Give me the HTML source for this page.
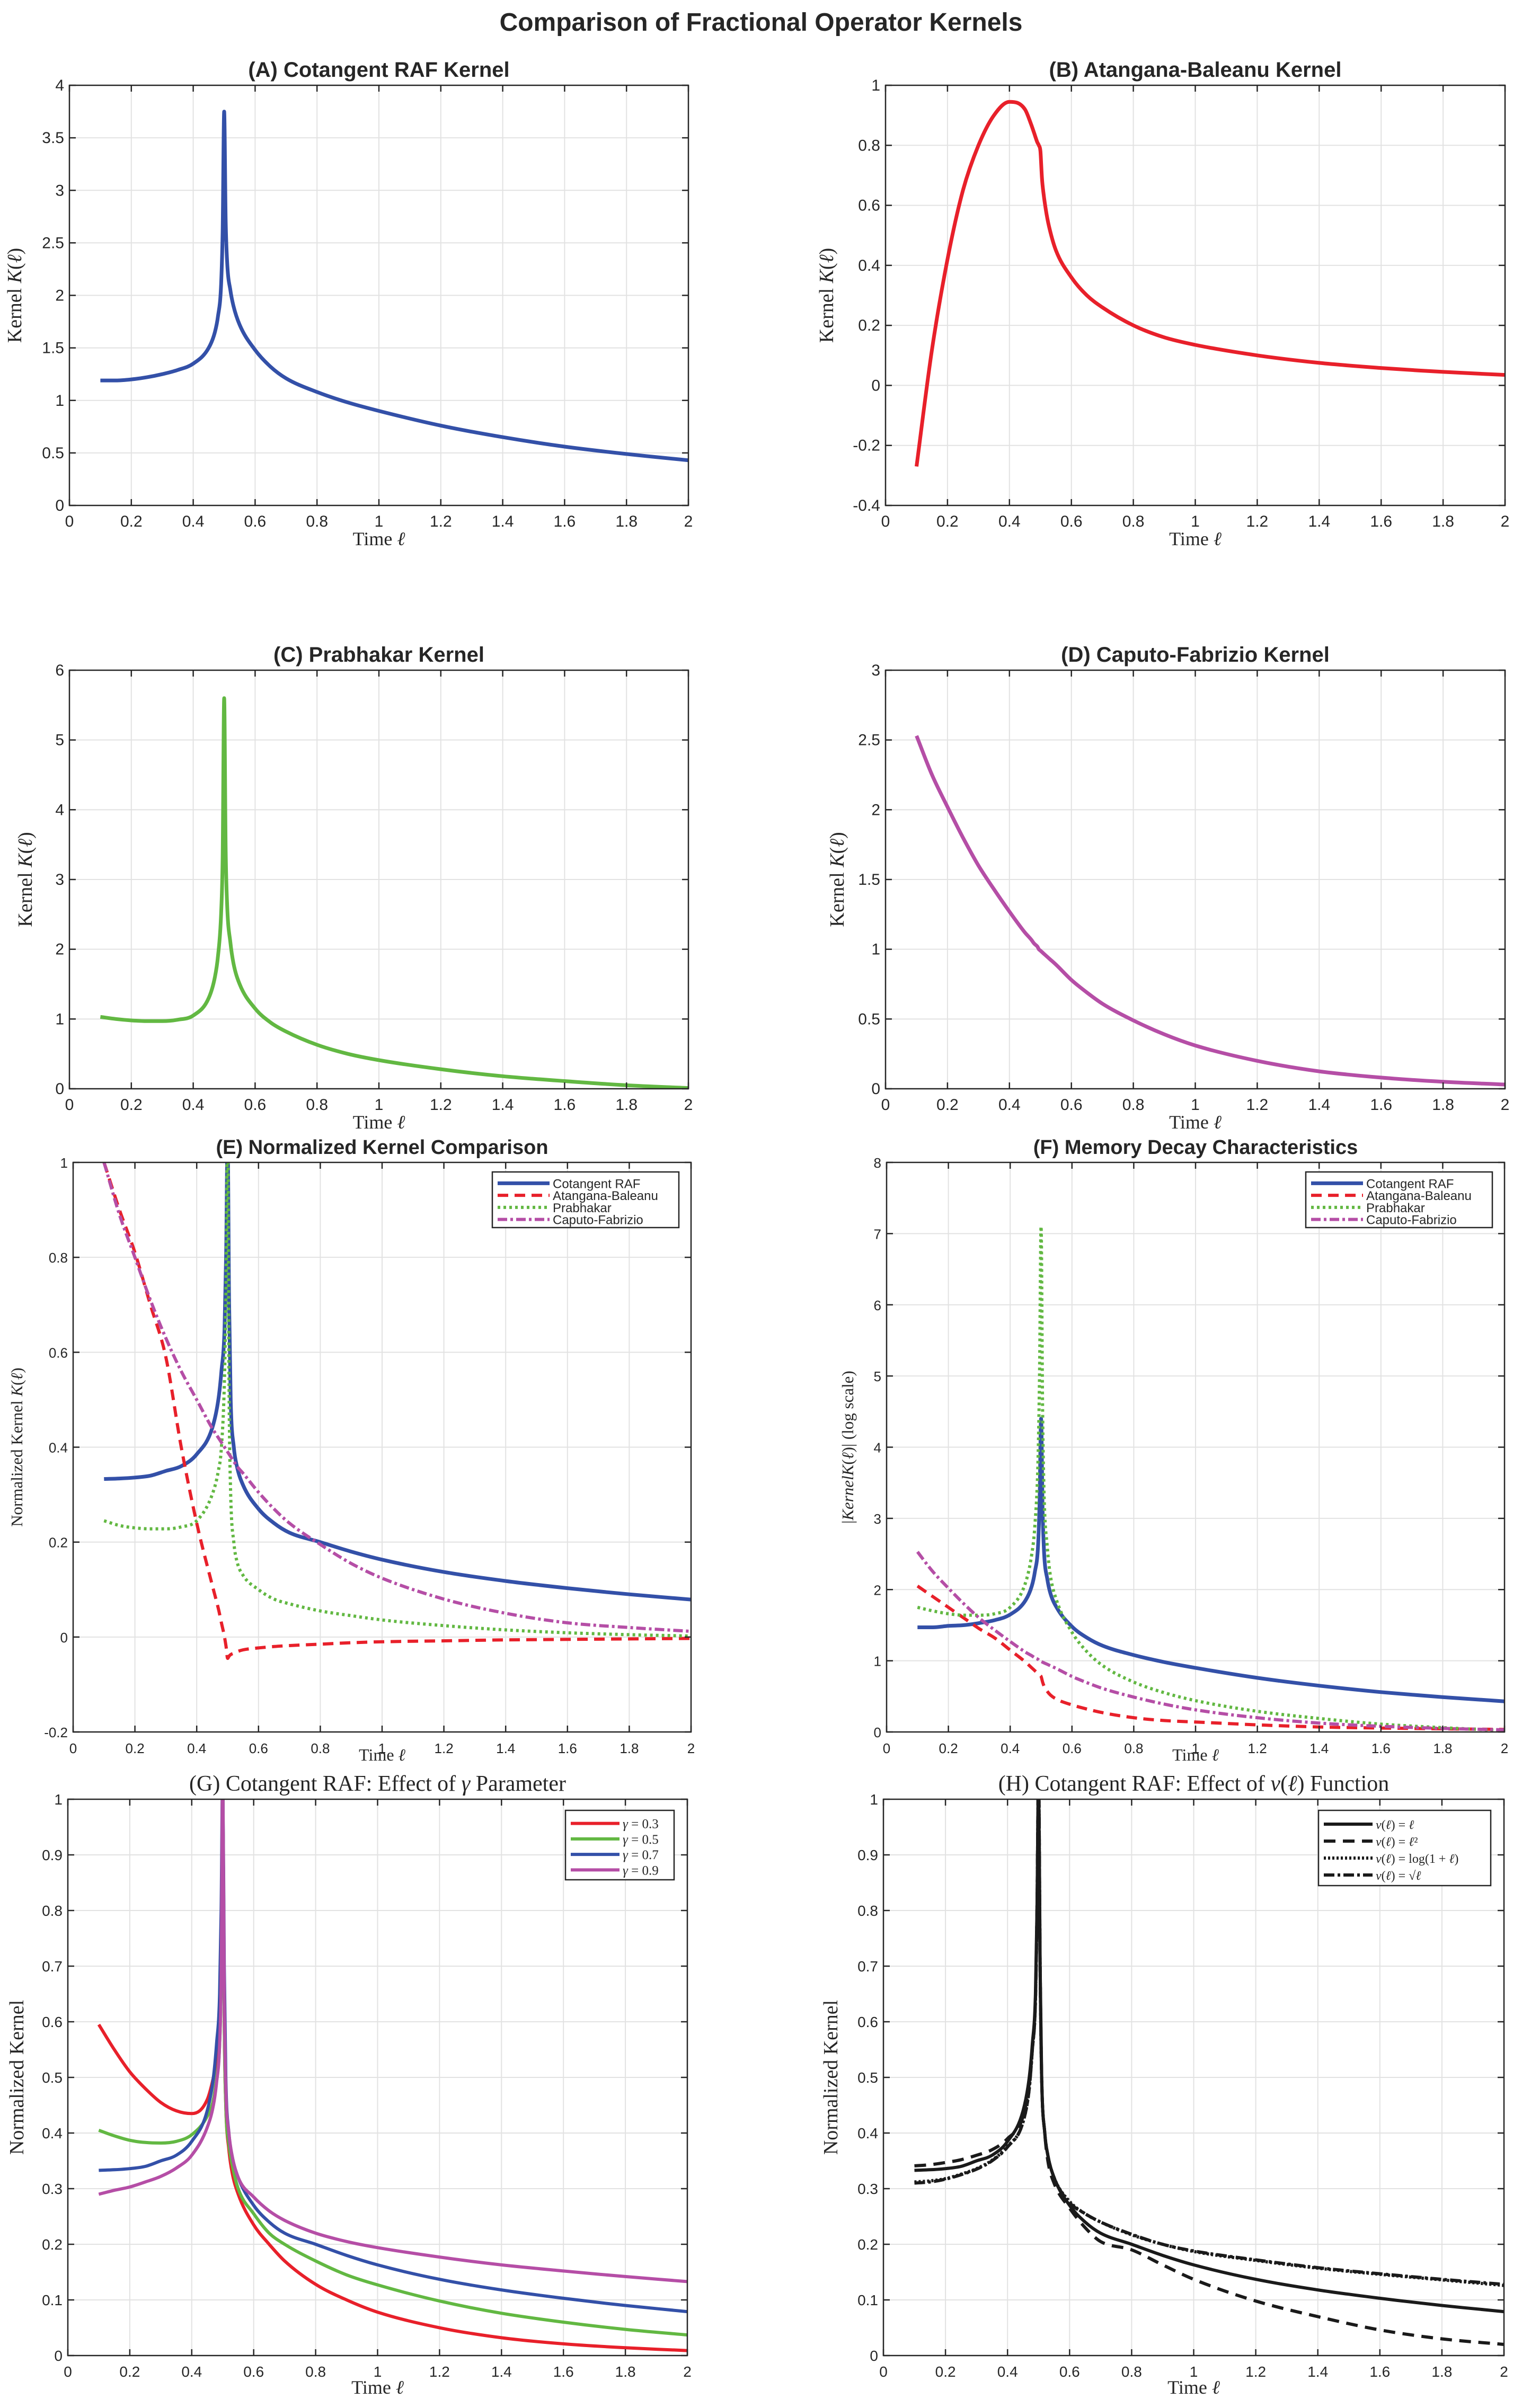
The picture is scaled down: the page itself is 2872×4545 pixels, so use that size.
<!DOCTYPE html>
<html><head><meta charset="utf-8"><style>
html,body{margin:0;padding:0;background:#fff;}
svg{display:block;}
</style></head><body>
<svg id="fig" width="2872" height="4545" viewBox="0 0 2872 4545" xmlns="http://www.w3.org/2000/svg">
<rect width="2872" height="4545" fill="#fff"/>
<text x="1436" y="58" text-anchor="middle" font-family="Liberation Sans, sans-serif" font-weight="bold" font-size="48" fill="#262626">Comparison of Fractional Operator Kernels</text>
</svg>
<script>
// ---- data ----
const xsPeak = [0.1,0.15,0.2,0.25,0.3,0.35,0.4,0.45,0.47,0.48,0.49,0.495,0.5,0.505,0.51,0.52,0.53,0.55,0.6,0.65,0.7,0.8,0.9,1.0,1.2,1.4,1.6,1.8,2.0];
const xTicks = [0,0.2,0.4,0.6,0.8,1,1.2,1.4,1.6,1.8,2];
const xTickLabels = ['0','0.2','0.4','0.6','0.8','1','1.2','1.4','1.6','1.8','2'];
const yTicksA = [0,0.5,1,1.5,2,2.5,3,3.5,4];
const yTickLabelsA = ['0','0.5','1','1.5','2','2.5','3','3.5','4'];
const yTicksB = [-0.4,-0.2,0,0.2,0.4,0.6,0.8,1];
const yTickLabelsB = ['-0.4','-0.2','0','0.2','0.4','0.6','0.8','1'];
const yTicksC = [0,1,2,3,4,5,6];
const yTickLabelsC = ['0','1','2','3','4','5','6'];
const yTicksD = [0,0.5,1,1.5,2,2.5,3];
const yTickLabelsD = ['0','0.5','1','1.5','2','2.5','3'];
const yTicksE = [-0.2,0,0.2,0.4,0.6,0.8,1];
const yTickLabelsE = ['-0.2','0','0.2','0.4','0.6','0.8','1'];
const yTicksF = [0,1,2,3,4,5,6,7,8];
const yTickLabelsF = ['0','1','2','3','4','5','6','7','8'];
const yTicksG = [0,0.1,0.2,0.3,0.4,0.5,0.6,0.7,0.8,0.9,1];
const yTickLabelsG = ['0','0.1','0.2','0.3','0.4','0.5','0.6','0.7','0.8','0.9','1'];

const cotA = [1.19,1.19,1.2,1.22,1.25,1.29,1.35,1.5,1.65,1.8,2.1,2.6,3.75,2.7,2.3,2.05,1.9,1.72,1.48,1.32,1.21,1.08,0.98,0.9,0.76,0.65,0.56,0.49,0.43];
const abB = [-0.27,0.12,0.42,0.65,0.8,0.9,0.945,0.92,0.87,0.84,0.81,0.8,0.78,0.69,0.64,0.57,0.52,0.45,0.36,0.3,0.26,0.2,0.16,0.135,0.1,0.075,0.058,0.045,0.035];
const prabC = [1.03,1.0,0.98,0.97,0.97,0.99,1.05,1.3,1.6,1.9,2.5,3.3,5.6,3.4,2.6,2.1,1.8,1.5,1.15,0.95,0.82,0.63,0.5,0.41,0.28,0.18,0.11,0.05,0.01];
const cfD = [2.53,2.25,2.02,1.8,1.6,1.43,1.27,1.12,1.07,1.04,1.02,1.0,0.99,0.98,0.97,0.95,0.93,0.89,0.78,0.69,0.61,0.49,0.39,0.31,0.2,0.125,0.08,0.05,0.03];

const cotE = [0.333,0.334,0.336,0.34,0.35,0.36,0.385,0.44,0.5,0.56,0.65,0.8,1.05,0.7,0.5,0.4,0.36,0.32,0.27,0.24,0.22,0.2,0.18,0.163,0.137,0.118,0.103,0.09,0.079];
const abE = [1.0,0.9,0.81,0.7,0.59,0.4,0.24,0.11,0.06,0.03,0.0,-0.02,-0.045,-0.04,-0.037,-0.034,-0.031,-0.027,-0.023,-0.02,-0.018,-0.015,-0.012,-0.01,-0.008,-0.006,-0.005,-0.004,-0.003];
const prabE = [0.245,0.235,0.23,0.228,0.228,0.232,0.245,0.3,0.35,0.4,0.55,0.75,1.1,0.5,0.3,0.2,0.16,0.13,0.1,0.08,0.07,0.055,0.045,0.036,0.024,0.015,0.009,0.005,0.002];
const cfE = [1.0,0.89,0.8,0.71,0.63,0.56,0.5,0.44,0.42,0.41,0.4,0.395,0.39,0.385,0.38,0.37,0.36,0.345,0.305,0.27,0.24,0.195,0.155,0.124,0.08,0.05,0.03,0.02,0.012];

const cotF = [1.47,1.47,1.49,1.5,1.53,1.57,1.65,1.85,2.05,2.25,2.6,3.2,4.4,3.1,2.5,2.15,1.95,1.75,1.48,1.32,1.21,1.08,0.98,0.9,0.76,0.65,0.56,0.49,0.43];
const abF = [2.05,1.9,1.75,1.6,1.45,1.32,1.15,0.98,0.9,0.86,0.82,0.8,0.78,0.7,0.64,0.57,0.52,0.46,0.38,0.32,0.27,0.2,0.16,0.14,0.1,0.07,0.055,0.045,0.035];
const prabF = [1.75,1.7,1.66,1.64,1.64,1.66,1.75,2.1,2.5,2.9,3.8,5.0,7.1,4.5,3.3,2.6,2.2,1.85,1.4,1.12,0.93,0.7,0.55,0.44,0.29,0.19,0.11,0.06,0.02];
const cfF = [2.53,2.25,2.02,1.8,1.6,1.43,1.27,1.12,1.07,1.04,1.02,1.0,0.99,0.98,0.97,0.95,0.93,0.89,0.78,0.69,0.61,0.49,0.39,0.31,0.2,0.125,0.08,0.05,0.03];

const g03 = [0.595,0.55,0.51,0.48,0.455,0.44,0.435,0.46,0.5,0.53,0.6,0.7,1.05,0.6,0.45,0.37,0.33,0.29,0.235,0.2,0.17,0.128,0.1,0.078,0.05,0.032,0.021,0.014,0.009];
const g05 = [0.405,0.395,0.387,0.383,0.382,0.385,0.397,0.43,0.46,0.5,0.56,0.68,1.05,0.6,0.45,0.38,0.345,0.3,0.255,0.22,0.2,0.17,0.145,0.127,0.098,0.076,0.06,0.047,0.037];
const g07 = [0.333,0.334,0.336,0.34,0.35,0.36,0.385,0.44,0.5,0.56,0.65,0.8,1.05,0.7,0.5,0.4,0.36,0.32,0.27,0.24,0.22,0.2,0.18,0.163,0.137,0.118,0.103,0.09,0.079];
const g09 = [0.29,0.297,0.303,0.312,0.322,0.337,0.36,0.41,0.45,0.49,0.56,0.68,1.05,0.65,0.48,0.4,0.36,0.32,0.285,0.26,0.243,0.22,0.205,0.194,0.177,0.163,0.152,0.142,0.133];

const vLin = [0.333,0.334,0.336,0.34,0.35,0.36,0.385,0.44,0.5,0.56,0.65,0.8,1.05,0.7,0.5,0.4,0.36,0.32,0.27,0.24,0.22,0.2,0.18,0.163,0.137,0.118,0.103,0.09,0.079];
const vSq = [0.341,0.343,0.347,0.352,0.36,0.37,0.39,0.43,0.49,0.55,0.64,0.8,1.05,0.7,0.5,0.4,0.35,0.31,0.265,0.23,0.205,0.19,0.163,0.137,0.098,0.07,0.046,0.03,0.02];
const vLog = [0.312,0.314,0.318,0.326,0.336,0.351,0.376,0.42,0.48,0.55,0.64,0.8,1.05,0.7,0.5,0.4,0.36,0.32,0.277,0.255,0.24,0.217,0.2,0.187,0.171,0.157,0.146,0.136,0.126];
const vSqrt = [0.31,0.312,0.317,0.325,0.335,0.35,0.375,0.42,0.48,0.55,0.64,0.8,1.05,0.7,0.5,0.4,0.36,0.32,0.275,0.255,0.24,0.218,0.2,0.188,0.172,0.158,0.147,0.137,0.128];

// ---- drawing ----
const NS = 'http://www.w3.org/2000/svg';
const svg = document.getElementById('fig');
const BLUE='#3350a8', RED='#e8202a', GREEN='#62b842', MAG='#b54ea6', BLK='#1a1a1a';
function mk(tag, attrs, parent){ const e=document.createElementNS(NS,tag); for(const k in attrs) e.setAttribute(k,attrs[k]); (parent||svg).appendChild(e); return e; }
// monotone cubic (Fritsch-Carlson) path through pixel points
function smoothPath(px, py){
  const n=px.length; if(n<3) return px.map((x,i)=>(i?'L':'M')+x+','+py[i]).join(' ');
  const d=[], m=new Array(n);
  for(let i=0;i<n-1;i++) d.push((py[i+1]-py[i])/(px[i+1]-px[i]));
  m[0]=d[0]; m[n-1]=d[n-2];
  for(let i=1;i<n-1;i++){ m[i]=(d[i-1]*d[i]<=0)?0:(d[i-1]+d[i])/2; }
  for(let i=0;i<n-1;i++){
    if(d[i]===0){m[i]=0;m[i+1]=0;continue;}
    const a=m[i]/d[i], b=m[i+1]/d[i], s=a*a+b*b;
    if(s>9){const t=3/Math.sqrt(s); m[i]=t*a*d[i]; m[i+1]=t*b*d[i];}
  }
  let p='M'+px[0].toFixed(1)+','+py[0].toFixed(1);
  for(let i=0;i<n-1;i++){
    const h=(px[i+1]-px[i])/3;
    p+=' C'+(px[i]+h).toFixed(1)+','+(py[i]+m[i]*h).toFixed(1)+' '+(px[i+1]-h).toFixed(1)+','+(py[i+1]-m[i+1]*h).toFixed(1)+' '+px[i+1].toFixed(1)+','+py[i+1].toFixed(1);
  }
  return p;
}
let clipId=0;
function drawPanel(p){
  const g = mk('g',{});
  
  
  const sx = v => p.x0 + (v - p.xmin)/(p.xmax-p.xmin)*(p.x1-p.x0);
  const sy = v => p.y1 - (v - p.ymin)/(p.ymax-p.ymin)*(p.y1-p.y0);
  xTicks.forEach((t,i)=>{
    const l = mk('line',{x1:sx(t),x2:sx(t),y1:p.y0,y2:p.y1,stroke:'#e2e2e2','stroke-width':2},g);
    
    
  });
  p.yt.forEach((t,i)=>{
    const l = mk('line',{x1:p.x0,x2:p.x1,y1:sy(t),y2:sy(t),stroke:'#e2e2e2','stroke-width':2},g);
    
    
  });
  clipId++;
  const cp = mk('clipPath',{id:'c'+clipId},g);
  mk('rect',{x:p.x0,y:p.y0,width:p.x1-p.x0,height:p.y1-p.y0},cp);
  p.series.forEach(s=>{
    const d = smoothPath(s.xs.map(sx), s.ys.map(sy));
    const path = mk('path',{d:d,fill:'none',stroke:s.color,'stroke-width':s.w||7,'stroke-dasharray':s.dash||'none','stroke-linejoin':'round','clip-path':'url(#c'+clipId+')'},g);
    
    
  });
  const box = mk('rect',{x:p.x0,y:p.y0,width:p.x1-p.x0,height:p.y1-p.y0,fill:'none',stroke:'#262626','stroke-width':2.5},g);
  
  
  xTicks.forEach((t,i)=>{
    mk('line',{x1:sx(t),x2:sx(t),y1:p.y1,y2:p.y1-12,stroke:'#262626','stroke-width':2.5},g);
    mk('line',{x1:sx(t),x2:sx(t),y1:p.y0,y2:p.y0+12,stroke:'#262626','stroke-width':2.5},g);
    const tx = mk('text',{x:sx(t),y:p.y1+40,'text-anchor':'middle','font-family':'Liberation Sans, sans-serif','font-size':p.tfs||28,fill:'#262626'},g);
    tx.textContent = xTickLabels[i];
    
    
  });
  p.yt.forEach((t,i)=>{
    mk('line',{x1:p.x0,x2:p.x0+12,y1:sy(t),y2:sy(t),stroke:'#262626','stroke-width':2.5},g);
    mk('line',{x1:p.x1,x2:p.x1-12,y1:sy(t),y2:sy(t),stroke:'#262626','stroke-width':2.5},g);
    const tx = mk('text',{x:p.x0-10,y:sy(t)+10,'text-anchor':'end','font-family':'Liberation Sans, sans-serif','font-size':p.tfs||28,fill:'#262626'},g);
    tx.textContent = p.ytl[i];
    
    
  });
  const ti = mk('text',{x:(p.x0+p.x1)/2,y:p.y0-16,'text-anchor':'middle','font-family':p.serifTitle?'Liberation Serif, serif':'Liberation Sans, sans-serif','font-weight':p.serifTitle?'normal':'bold','font-size':p.serifTitle?42:(p.titleFs||40),fill:'#262626'},g);
  ti.innerHTML = p.title;
  
  
  const xl = mk('text',{x:(p.x0+p.x1)/2,y:p.y1+p.xlOff,'text-anchor':'middle','font-family':'Liberation Serif, serif','font-size':p.xlfs||36,fill:'#262626'},g);
  xl.innerHTML = 'Time <tspan font-style="italic">ℓ</tspan>';
  
  
  const cy=(p.y0+p.y1)/2;
  const yl = mk('text',{x:p.ylx,y:cy,'text-anchor':'middle','font-family':'Liberation Serif, serif','font-size':p.ylfs||38,fill:'#262626',transform:'rotate(-90 '+p.ylx+' '+cy+')'},g);
  yl.innerHTML = p.ylabel;
  
  
  if(p.legend){
    const L=p.legend;
    const lg = mk('g',{},g);
    
    
    mk('rect',{x:L.x,y:L.y,width:L.w,height:L.h,fill:'#fff',stroke:'#262626','stroke-width':2.5},lg);
    const rowH=(L.h-14)/p.series.length;
    p.series.forEach((s,i)=>{
      const yy=L.y+10+rowH*(i+0.5);
      mk('line',{x1:L.x+10,x2:L.x+10+L.lw,y1:yy,y2:yy,stroke:s.color,'stroke-width':s.w||7,'stroke-dasharray':s.dash||'none'},lg);
      const t=mk('text',{x:L.x+16+L.lw,y:yy+9,'font-family':L.serif?'Liberation Serif, serif':'Liberation Sans, sans-serif','font-size':L.fs||25,fill:'#262626'},lg);
      t.innerHTML = s.label;
      
      
    });
  }
}
const KL='Kernel <tspan font-style="italic">K</tspan>(<tspan font-style="italic">ℓ</tspan>)';
const LX=131, RX=1299, LX2=1671, RX2=2840;
drawPanel({id:'panel-a',x0:LX,x1:RX,y0:161,y1:954,xmin:0,xmax:2,ymin:0,ymax:4,yt:yTicksA,ytl:yTickLabelsA,title:'(A) Cotangent RAF Kernel',ylabel:KL,ylx:40,xlOff:75,tfs:30,
  series:[{xs:xsPeak,ys:cotA,color:BLUE,name:'cotangent-raf-line'}]});
drawPanel({id:'panel-b',x0:LX2,x1:RX2,y0:161,y1:954,xmin:0,xmax:2,ymin:-0.4,ymax:1,yt:yTicksB,ytl:yTickLabelsB,title:'(B) Atangana-Baleanu Kernel',ylabel:KL,ylx:1572,xlOff:75,tfs:30,
  series:[{xs:xsPeak,ys:abB,color:RED,name:'atangana-baleanu-line'}]});
drawPanel({id:'panel-c',x0:LX,x1:RX,y0:1265,y1:2055,xmin:0,xmax:2,ymin:0,ymax:6,yt:yTicksC,ytl:yTickLabelsC,title:'(C) Prabhakar Kernel',ylabel:KL,ylx:60,xlOff:75,tfs:30,
  series:[{xs:xsPeak,ys:prabC,color:GREEN,name:'prabhakar-line'}]});
drawPanel({id:'panel-d',x0:LX2,x1:RX2,y0:1265,y1:2055,xmin:0,xmax:2,ymin:0,ymax:3,yt:yTicksD,ytl:yTickLabelsD,title:'(D) Caputo-Fabrizio Kernel',ylabel:KL,ylx:1592,xlOff:75,tfs:30,
  series:[{xs:xsPeak,ys:cfD,color:MAG,name:'caputo-fabrizio-line'}]});
const leg4=(x)=>({x:x,y:2212,w:352,h:105,lw:98,fs:24});
drawPanel({id:'panel-e',x0:138,x1:1304,y0:2194,y1:3269,xmin:0,xmax:2,ymin:-0.2,ymax:1,yt:yTicksE,ytl:yTickLabelsE,title:'(E) Normalized Kernel Comparison',titleFs:38,ylabel:'Normalized Kernel <tspan font-style="italic">K</tspan>(<tspan font-style="italic">ℓ</tspan>)',ylx:42,ylfs:31,xlOff:54,xlfs:32,tfs:26,
  legend:leg4(929),
  series:[{xs:xsPeak,ys:cotE,color:BLUE,name:'cotangent-raf-line',label:'Cotangent RAF'},
          {xs:xsPeak,ys:abE,color:RED,dash:'20,12',w:6,name:'atangana-baleanu-line',label:'Atangana-Baleanu'},
          {xs:xsPeak,ys:prabE,color:GREEN,dash:'5,6',w:6,name:'prabhakar-line',label:'Prabhakar'},
          {xs:xsPeak,ys:cfE,color:MAG,dash:'18,6,5,6',w:6,name:'caputo-fabrizio-line',label:'Caputo-Fabrizio'}]});
drawPanel({id:'panel-f',x0:1673,x1:2839,y0:2194,y1:3269,xmin:0,xmax:2,ymin:0,ymax:8,yt:yTicksF,ytl:yTickLabelsF,title:'(F) Memory Decay Characteristics',titleFs:38,ylabel:'|<tspan font-style="italic">KernelK</tspan>(<tspan font-style="italic">ℓ</tspan>)| (log scale)',ylx:1610,ylfs:31,xlOff:54,xlfs:32,tfs:26,
  legend:leg4(2464),
  series:[{xs:xsPeak,ys:cotF,color:BLUE,name:'cotangent-raf-line',label:'Cotangent RAF'},
          {xs:xsPeak,ys:abF,color:RED,dash:'20,12',w:6,name:'atangana-baleanu-line',label:'Atangana-Baleanu'},
          {xs:xsPeak,ys:prabF,color:GREEN,dash:'5,6',w:6,name:'prabhakar-line',label:'Prabhakar'},
          {xs:xsPeak,ys:cfF,color:MAG,dash:'18,6,5,6',w:6,name:'caputo-fabrizio-line',label:'Caputo-Fabrizio'}]});
drawPanel({id:'panel-g',x0:128,x1:1297,y0:3396,y1:4446,xmin:0,xmax:2,ymin:0,ymax:1,yt:yTicksG,ytl:yTickLabelsG,serifTitle:true,title:'(G) Cotangent RAF: Effect of <tspan font-style="italic">γ</tspan> Parameter',ylabel:'Normalized Kernel',ylx:44,xlOff:72,tfs:28,
  legend:{x:1067,y:3417,w:205,h:131,lw:92,fs:25,serif:true},
  series:[{xs:xsPeak,ys:g03,color:RED,w:6,name:'gamma-0.3-line',label:'<tspan font-style="italic">γ</tspan> = 0.3'},
          {xs:xsPeak,ys:g05,color:GREEN,w:6,name:'gamma-0.5-line',label:'<tspan font-style="italic">γ</tspan> = 0.5'},
          {xs:xsPeak,ys:g07,color:BLUE,w:6,name:'gamma-0.7-line',label:'<tspan font-style="italic">γ</tspan> = 0.7'},
          {xs:xsPeak,ys:g09,color:MAG,w:6,name:'gamma-0.9-line',label:'<tspan font-style="italic">γ</tspan> = 0.9'}]});
drawPanel({id:'panel-h',x0:1667,x1:2838,y0:3396,y1:4446,xmin:0,xmax:2,ymin:0,ymax:1,yt:yTicksG,ytl:yTickLabelsG,serifTitle:true,title:'(H) Cotangent RAF: Effect of <tspan font-style="italic">v</tspan>(<tspan font-style="italic">ℓ</tspan>) Function',ylabel:'Normalized Kernel',ylx:1580,xlOff:72,tfs:28,
  legend:{x:2488,y:3417,w:325,h:142,lw:92,fs:24,serif:true},
  series:[{xs:xsPeak,ys:vLin,color:BLK,w:6,name:'v-linear-line',label:'<tspan font-style="italic">v</tspan>(<tspan font-style="italic">ℓ</tspan>) = <tspan font-style="italic">ℓ</tspan>'},
          {xs:xsPeak,ys:vSq,color:BLK,w:6,dash:'22,14',name:'v-square-line',label:'<tspan font-style="italic">v</tspan>(<tspan font-style="italic">ℓ</tspan>) = <tspan font-style="italic">ℓ</tspan>²'},
          {xs:xsPeak,ys:vLog,color:BLK,w:6,dash:'4,4',name:'v-log-line',label:'<tspan font-style="italic">v</tspan>(<tspan font-style="italic">ℓ</tspan>) = log(1 + <tspan font-style="italic">ℓ</tspan>)'},
          {xs:xsPeak,ys:vSqrt,color:BLK,w:6,dash:'20,6,5,6',name:'v-sqrt-line',label:'<tspan font-style="italic">v</tspan>(<tspan font-style="italic">ℓ</tspan>) = √<tspan font-style="italic">ℓ</tspan>'}]});
</script>
</body></html>
